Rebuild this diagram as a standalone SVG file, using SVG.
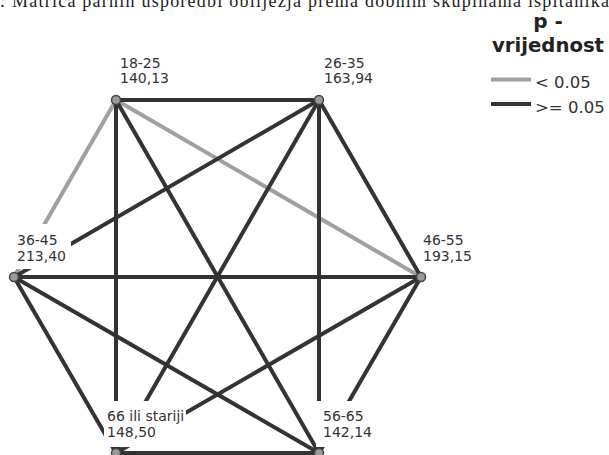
<svg xmlns="http://www.w3.org/2000/svg" width="609" height="455" viewBox="0 0 609 455">
<style>
.cap{font-family:"Liberation Serif",serif;font-size:18px;fill:#222}
.lbl{font-family:"DejaVu Sans",sans-serif;font-size:14px;fill:#333}
.leg{font-family:"DejaVu Sans",sans-serif;font-size:16.5px;fill:#333}
.legt{font-family:"DejaVu Sans",sans-serif;font-size:20px;font-weight:bold;fill:#222}
.dk{stroke:#333;stroke-width:4;fill:none}
.gr{stroke:#a0a0a0;stroke-width:4;fill:none}
.nd{fill:#9a9a9a;stroke:#444;stroke-width:1.5}
.bg{fill:#fff}
</style>
<rect width="609" height="455" fill="#fff"/>
<text class="cap" x="0" y="7" textLength="609" lengthAdjust="spacing">: Matrica parnih usporedbi obilježja prema dobnim skupinama ispitanika</text>
<g id="connectors">
<line class="gr" x1="116" y1="100" x2="14" y2="277"/>
<line class="gr" x1="116" y1="100" x2="421" y2="277"/>
<line class="dk" x1="116" y1="100" x2="319" y2="100"/>
<line class="dk" x1="116" y1="100" x2="319" y2="453"/>
<line class="dk" x1="116" y1="100" x2="116" y2="453"/>
<line class="dk" x1="319" y1="100" x2="14" y2="277"/>
<line class="dk" x1="319" y1="100" x2="421" y2="277"/>
<line class="dk" x1="319" y1="100" x2="319" y2="453"/>
<line class="dk" x1="319" y1="100" x2="116" y2="453"/>
<line class="dk" x1="14" y1="277" x2="421" y2="277"/>
<line class="dk" x1="14" y1="277" x2="319" y2="453"/>
<line class="dk" x1="14" y1="277" x2="116" y2="453"/>
<line class="dk" x1="421" y1="277" x2="319" y2="453"/>
<line class="dk" x1="421" y1="277" x2="116" y2="453"/>
<line class="dk" x1="319" y1="453" x2="116" y2="453"/>
</g>
<g id="node-18-25">
<circle class="nd" cx="116" cy="100" r="4.5"/>
<text class="lbl" x="120" y="68">18-25</text>
<text class="lbl" x="120" y="83">140,13</text>
</g>
<g id="node-26-35">
<circle class="nd" cx="319" cy="100" r="4.5"/>
<text class="lbl" x="324" y="68">26-35</text>
<text class="lbl" x="324" y="83">163,94</text>
</g>
<g id="node-36-45">
<rect class="bg" x="15" y="224" width="56" height="45"/>
<circle class="nd" cx="14" cy="277" r="4.5"/>
<text class="lbl" x="17" y="245">36-45</text>
<text class="lbl" x="17" y="261">213,40</text>
</g>
<g id="node-46-55">
<circle class="nd" cx="421" cy="277" r="4.5"/>
<text class="lbl" x="423" y="245">46-55</text>
<text class="lbl" x="423" y="261">193,15</text>
</g>
<g id="node-56-65">
<rect class="bg" x="316" y="401" width="61" height="46"/>
<circle class="nd" cx="319" cy="453" r="4.5"/>
<text class="lbl" x="323" y="421">56-65</text>
<text class="lbl" x="323" y="437">142,14</text>
</g>
<g id="node-66">
<rect class="bg" x="104" y="401" width="82" height="46"/>
<circle class="nd" cx="116" cy="453" r="4.5"/>
<text class="lbl" x="107" y="421">66 ili stariji</text>
<text class="lbl" x="107" y="437">148,50</text>
</g>
<g id="legend">
<text class="legt" x="548" y="28" text-anchor="middle">p -</text>
<text class="legt" x="492" y="52" textLength="112" lengthAdjust="spacingAndGlyphs">vrijednost</text>
<line class="gr" x1="491" y1="79.5" x2="531" y2="79.5" stroke-width="4.5"/>
<text class="leg" x="535" y="88">&lt; 0.05</text>
<line class="dk" x1="491" y1="104" x2="531" y2="104" stroke-width="4.5"/>
<text class="leg" x="535" y="113">&gt;= 0.05</text>
</g>
</svg>
